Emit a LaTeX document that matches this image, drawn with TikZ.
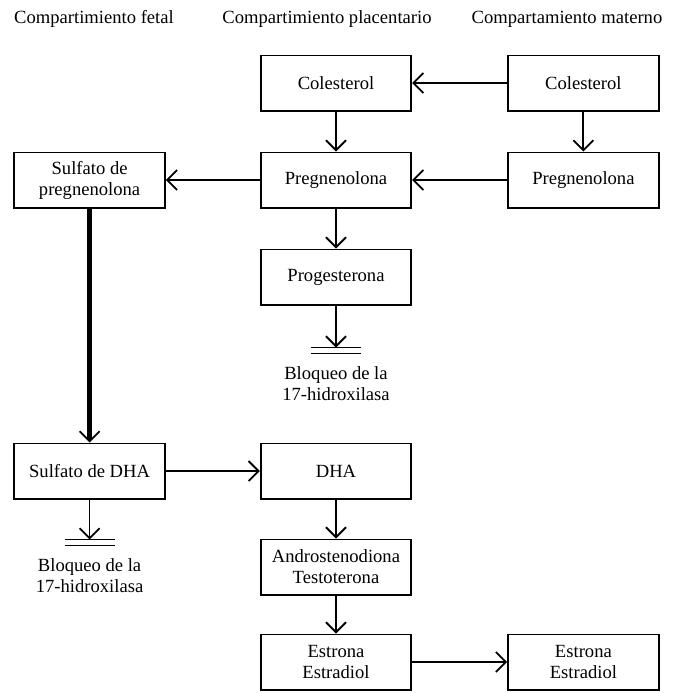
\documentclass[tikz,border=0pt]{standalone}
\usepackage{fontspec}
\setmainfont{Liberation Serif}
\usetikzlibrary{positioning,arrows.meta}
\tikzset{
  box/.style  = {shape=rectangle, draw, line width=0.9pt, align=center,
                 minimum width=75.3pt, minimum height=27.6pt, inner sep=2pt},
  head/.style = {inner sep=0pt},
  note/.style = {align=center, inner sep=0pt},
  flow/.style = {draw, line width=0.9pt,
                 -{Straight Barb[length=5pt,width=10pt,line width=0.9pt]}},
  bar/.style  = {line width=0.9pt}
}

\begin{document}
\begin{tikzpicture}[font=\fontsize{9.3}{10.5}\selectfont, node distance=20pt]
  \useasboundingbox (-168pt,41.5pt) rectangle (169.5pt,-305pt);
  % compartments
  \node[head] (hfet) at (-121pt,32pt) {Compartimiento fetal};
  \node[head] (hpla) at (-4.5pt,32pt) {Compartimiento placentario};
  \node[head] (hmat) at (115.5pt,32pt) {Compartamiento materno};

  \node [box] (colP) {Colesterol};
  \node [box] (colM) [right=47.5pt of colP] {Colesterol};
  \node [box] (pregP) [below=of colP] {Pregnenolona};
  \node [box] (pregM) [below=of colM] {Pregnenolona};
  \node [box] (sulfP) [left=47pt of pregP] {Sulfato de\\pregnenolona};
  \node [box] (prog) [below=of pregP] {Progesterona};
  \coordinate [below=21pt of prog] (blkP);
  \node [note] (txtP) [below=9.5pt of blkP] {Bloqueo de la\\17-hidroxilasa};

  \node [box] (dha) [below=68.5pt of prog] {DHA};
  \node [box] (sulfD) [left=47pt of dha] {Sulfato de DHA};
  \coordinate [below=of sulfD] (blkF);
  \node [note] (txtF) [below=9.5pt of blkF] {Bloqueo de la\\17-hidroxilasa};
  \node [box] (andro) [below=19.5pt of dha] {Androstenodiona\\Testoterona};
  \node [box] (estP) [below=19pt of andro] {Estrona\\Estradiol};
  \node [box] (estM) [right=47.5pt of estP] {Estrona\\Estradiol};

  \path[flow] (colM) edge (colP);
  \path[flow] (colP) edge (pregP);
  \path[flow] (colM) edge (pregM);
  \path[flow] (pregM) edge (pregP);
  \path[flow] (pregP) edge (sulfP);
  \path[flow] (pregP) edge (prog);
  \path[flow] (prog) edge (blkP);
  \path[flow, line width=2.2pt] (sulfP) edge (sulfD);
  \path[flow] (sulfD) edge (dha);
  \path[flow] (sulfD) edge (blkF);
  \path[flow] (dha) edge (andro);
  \path[flow] (andro) edge (estP);
  \path[flow] (estP) edge (estM);

  % blocked step
  \foreach \b in {blkP,blkF} {
    \draw[bar] ([xshift=-12.5pt]\b) -- ([xshift=12.5pt]\b);
    \draw[bar] ([xshift=-12.5pt,yshift=-3pt]\b) -- ([xshift=12.5pt,yshift=-3pt]\b);
  }
\end{tikzpicture}
\end{document}
